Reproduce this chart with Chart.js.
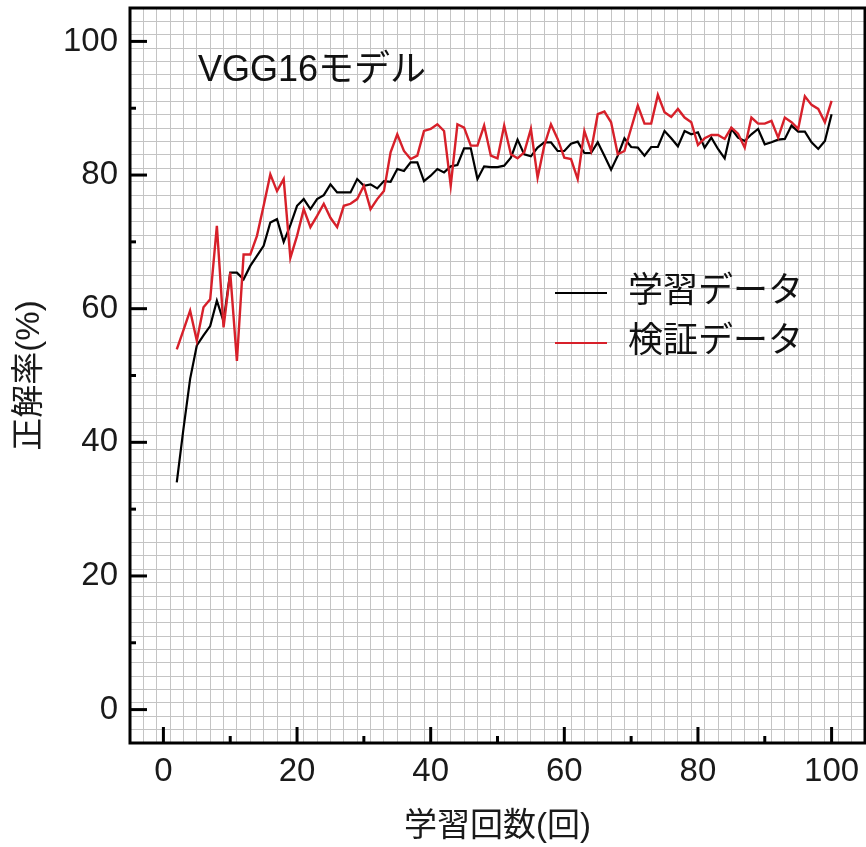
<!DOCTYPE html>
<html>
<head>
<meta charset="utf-8">
<script src="https://cdn.jsdelivr.net/npm/chart.js@4.4.1/dist/chart.umd.min.js"></script>
<style>
  body { margin: 0; background: #ffffff; }
  #wrap { width: 866px; height: 847px; }
</style>
</head>
<body>
<div id="wrap"><canvas id="accChart" width="866" height="847"></canvas></div>
<script>
// Epochs (学習回数) 2..100
const epochs = Array.from({ length: 99 }, (_, i) => i + 2);

// 学習データ (training accuracy, %)
const trainAcc = [
    34.0, 42.0, 49.5, 54.5, 56.0, 57.4, 61.2, 58.1, 65.4, 65.4,
    64.4, 66.4, 67.9, 69.4, 72.9, 73.4, 70.0, 72.5, 75.4, 76.4,
    74.9, 76.4, 77.0, 78.6, 77.4, 77.4, 77.4, 79.4, 78.4, 78.6,
    78.0, 79.1, 79.0, 80.9, 80.6, 81.9, 81.9, 79.1, 79.9, 80.9,
    80.4, 81.3, 81.5, 84.0, 84.0, 79.4, 81.3, 81.2, 81.2, 81.4,
    82.6, 85.3, 83.1, 82.8, 84.1, 84.9, 84.9, 83.6, 83.6, 84.7,
    85.0, 83.3, 83.3, 84.9, 82.9, 80.8, 82.9, 85.5, 84.2, 84.1,
    82.9, 84.2, 84.2, 86.6, 85.5, 84.3, 86.6, 86.1, 86.4, 84.1,
    85.6, 83.9, 82.5, 86.9, 85.6, 85.1, 86.1, 86.9, 84.6, 84.9,
    85.3, 85.4, 87.4, 86.5, 86.5, 84.9, 83.9, 85.1, 89.1
];

// 検証データ (validation accuracy, %)
const valAcc = [
    53.9, 56.8, 59.7, 55.2, 60.2, 61.4, 72.4, 57.2, 65.4, 52.2,
    68.1, 68.1, 70.9, 75.4, 80.1, 77.6, 79.4, 67.6, 70.9, 74.9,
    72.2, 73.9, 75.7, 73.6, 72.2, 75.4, 75.7, 76.4, 78.4, 74.9,
    76.4, 77.6, 83.4, 86.1, 83.6, 82.4, 82.9, 86.6, 86.9, 87.6,
    86.6, 78.4, 87.6, 87.1, 84.4, 84.4, 87.4, 82.9, 82.5, 87.4,
    83.1, 82.5, 83.4, 86.9, 79.6, 84.4, 87.6, 85.4, 82.6, 82.4,
    79.4, 86.6, 83.6, 89.1, 89.5, 87.9, 83.1, 83.6, 87.0, 90.4,
    87.7, 87.7, 92.0, 89.4, 88.7, 89.9, 88.6, 87.9, 84.5, 85.5,
    86.0, 86.0, 85.4, 87.1, 86.2, 84.1, 88.6, 87.7, 87.7, 88.1,
    85.6, 88.6, 87.9, 86.9, 91.8, 90.5, 89.9, 87.9, 91.1
];

// Tick labels
const xTickLabels = [0, 20, 40, 60, 80, 100];
const yTickLabels = [0, 20, 40, 60, 80, 100];
const xMinorTicks = [10, 30, 50, 70, 90];
const yMinorTicks = [10, 30, 50, 70, 90];

const chartTitle = 'VGG16モデル';
const xTitle = '学習回数(回)';
const yTitle = '正解率(%)';

const FONT = '"Liberation Sans", Arial, "Noto Sans CJK JP", sans-serif';
const RED = '#d7202a';
const GRID = '#c4c4c4';

function toPoints(values) {
    return values.map((v, i) => ({ x: epochs[i], y: v }));
}

// Frame, inward tick marks, in-plot title and legend
const decorPlugin = {
    id: 'decor',
    afterDraw(chart) {
        const ctx = chart.ctx;
        const area = chart.chartArea;
        const xs = chart.scales.x;
        const ys = chart.scales.y;

        ctx.save();
        ctx.strokeStyle = '#000';
        ctx.lineWidth = 3;
        ctx.lineCap = 'butt';

        // ticks on bottom axis
        xTickLabels.forEach(v => {
            const px = xs.getPixelForValue(v);
            ctx.beginPath();
            ctx.moveTo(px, area.bottom);
            ctx.lineTo(px, area.bottom - 16);
            ctx.stroke();
        });
        xMinorTicks.forEach(v => {
            const px = xs.getPixelForValue(v);
            ctx.beginPath();
            ctx.moveTo(px, area.bottom);
            ctx.lineTo(px, area.bottom - 7);
            ctx.stroke();
        });
        // ticks on left axis
        yTickLabels.forEach(v => {
            const py = ys.getPixelForValue(v);
            ctx.beginPath();
            ctx.moveTo(area.left, py);
            ctx.lineTo(area.left + 17, py);
            ctx.stroke();
        });
        yMinorTicks.forEach(v => {
            const py = ys.getPixelForValue(v);
            ctx.beginPath();
            ctx.moveTo(area.left, py);
            ctx.lineTo(area.left + 6, py);
            ctx.stroke();
        });

        // frame
        ctx.strokeRect(area.left, area.top, area.right - area.left, area.bottom - area.top);

        // title inside plot
        ctx.fillStyle = '#111';
        ctx.font = '36px ' + FONT;
        ctx.textAlign = 'left';
        ctx.textBaseline = 'middle';
        ctx.fillText(chartTitle, area.left + 68, area.top + 63);

        // legend inside plot
        const lx = area.left + 425;
        const rows = [area.top + 285, area.top + 335];
        chart.data.datasets.forEach((ds, i) => {
            const y = rows[i];
            ctx.strokeStyle = ds.borderColor;
            ctx.lineWidth = 2;
            ctx.beginPath();
            ctx.moveTo(lx, y);
            ctx.lineTo(lx + 52, y);
            ctx.stroke();
            ctx.fillStyle = '#111';
            ctx.font = '35px ' + FONT;
            ctx.fillText(ds.label, lx + 73, y - 1);
        });
        ctx.restore();
    }
};

// no extra padding from the tick labels
function noPad(scale) {
    scale.paddingTop = 0;
    scale.paddingBottom = 0;
    scale.paddingLeft = 0;
    scale.paddingRight = 0;
}

// grid-only axis (every 2 units), no labels
function gridAxis(position) {
    return {
        type: 'linear',
        position: position,
        min: -5,
        max: 105,
        afterFit: function(scale) {
            if (scale.isHorizontal()) scale.height = 0; else scale.width = 0;
            noPad(scale);
        },
        border: { display: false },
        grid: { color: GRID, lineWidth: 1, drawTicks: false },
        ticks: { display: false, stepSize: 2, includeBounds: false, autoSkip: false }
    };
}

document.addEventListener('DOMContentLoaded', function() {
    const ctx = document.getElementById('accChart');
    new Chart(ctx, {
        type: 'line',
        data: {
            datasets: [{
                label: '学習データ',
                data: toPoints(trainAcc),
                borderColor: '#000000',
                borderWidth: 2.2,
                pointRadius: 0,
                tension: 0,
                order: 1
            }, {
                label: '検証データ',
                data: toPoints(valAcc),
                borderColor: RED,
                borderWidth: 2.4,
                pointRadius: 0,
                tension: 0,
                order: 0
            }]
        },
        options: {
            responsive: false,
            animation: false,
            layout: {
                padding: { top: 8, right: 1, left: 0, bottom: 0 }
            },
            plugins: {
                legend: { display: false },
                tooltip: { enabled: false }
            },
            scales: {
                xg: gridAxis('bottom'),
                yg: gridAxis('left'),
                x: {
                    type: 'linear',
                    position: 'bottom',
                    min: -5,
                    max: 105,
                    afterFit: function(scale) { scale.height = 104; noPad(scale); },
                    afterBuildTicks: function(scale) {
                        scale.ticks = xTickLabels.map(v => ({ value: v }));
                    },
                    border: { display: false },
                    grid: { display: false },
                    ticks: {
                        autoSkip: false,
                        maxRotation: 0,
                        padding: 1,
                        color: '#1a1a1a',
                        font: { family: FONT, size: 33 }
                    },
                    title: {
                        display: true,
                        text: xTitle,
                        color: '#1a1a1a',
                        font: { family: FONT, size: 33 },
                        padding: { top: 0, bottom: 0 }
                    }
                },
                y: {
                    type: 'linear',
                    position: 'left',
                    min: -5,
                    max: 105,
                    afterFit: function(scale) { scale.width = 130; noPad(scale); },
                    afterBuildTicks: function(scale) {
                        scale.ticks = yTickLabels.map(v => ({ value: v }));
                    },
                    border: { display: false },
                    grid: { display: false },
                    ticks: {
                        autoSkip: false,
                        padding: 4,
                        color: '#1a1a1a',
                        font: { family: FONT, size: 33 }
                    },
                    title: {
                        display: true,
                        text: yTitle,
                        color: '#1a1a1a',
                        font: { family: FONT, size: 33 },
                        padding: { top: 10, bottom: 0 }
                    }
                }
            }
        },
        plugins: [decorPlugin]
    });
});
</script>
</body>
</html>
